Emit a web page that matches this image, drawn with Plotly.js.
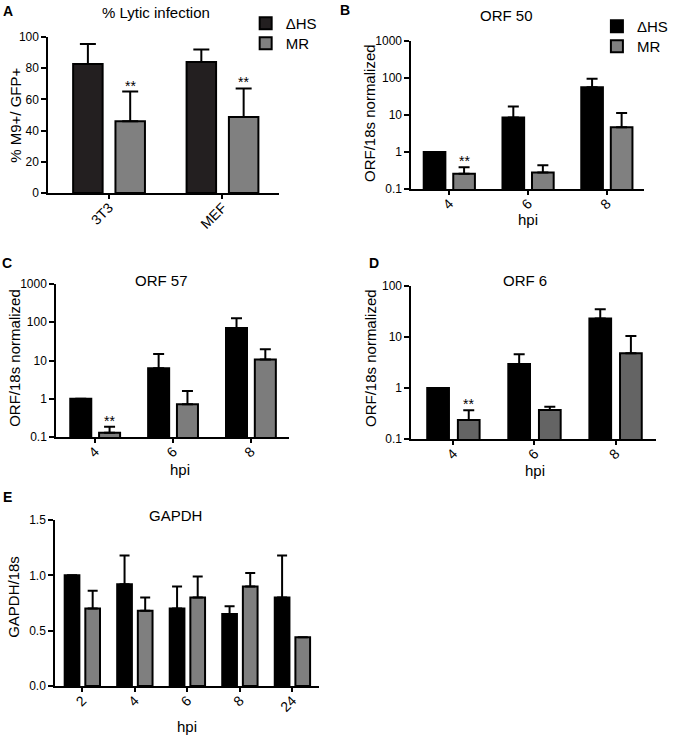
<!DOCTYPE html>
<html><head><meta charset="utf-8">
<script src="https://cdn.plot.ly/plotly-3.0.1.min.js"></script>
<style>html,body{margin:0;padding:0;background:#fff}#chart{width:673px;height:737px}</style>
</head><body><div id="chart"></div>
<script>
// ---------------- DATA ----------------
const seriesNames = ['\u0394HS', 'MR'];

// A: % Lytic infection
const cellCats = ['3T3', 'MEF'];
const lyticDHS = [82.7, 84.0];
const lyticDHSTop = [95.5, 92.0];
const lyticMR = [46.0, 48.7];
const lyticMRTop = [65.0, 67.0];

// B-D: ORF/18s normalized
const hpiORF = ['4', '6', '8'];
const orf50DHS = [1.0, 8.5, 56];
const orf50DHSTop = [1.0, 17, 96];
const orf50MR = [0.26, 0.28, 4.7];
const orf50MRTop = [0.39, 0.44, 11.3];

const orf57DHS = [1.0, 6.3, 71];
const orf57DHSTop = [1.0, 14.8, 127];
const orf57MR = [0.13, 0.72, 10.7];
const orf57MRTop = [0.185, 1.59, 19.6];

const orf6DHS = [1.0, 2.95, 23];
const orf6DHSTop = [1.0, 4.6, 35];
const orf6MR = [0.236, 0.37, 4.8];
const orf6MRTop = [0.366, 0.43, 10.5];

// E: GAPDH/18s
const hpiGAPDH = ['2', '4', '6', '8', '24'];
const gapdhDHS = [1.00, 0.92, 0.70, 0.65, 0.80];
const gapdhDHSTop = [1.00, 1.18, 0.90, 0.72, 1.18];
const gapdhMR = [0.70, 0.68, 0.80, 0.90, 0.44];
const gapdhMRTop = [0.86, 0.80, 0.99, 1.02, 0.44];

const logTickVals = [0.1, 1, 10, 100, 1000];
const logTickText = ['0.1', '1', '10', '100', '1000'];

// ---------------- LAYOUT ----------------
const W = 673, H = 737;
const FONT = '"Liberation Sans", Arial, Helvetica, sans-serif';
const px = x => x / W;
const py = y => 1 - y / H;

const panels = [
  {letter:'A', title:'% Lytic infection', ytitle:'% M9+/ GFP+', xtitle:null,
   cats:cellCats, dhs:lyticDHS, dhsTop:lyticDHSTop, mr:lyticMR, mrTop:lyticMRTop,
   log:false, yrange:[0,100], dtick:20, box:[49,283,37,193], xr:[-0.535,1.5], w:0.26, g:0.113,
   dhsColor:'#231f20', mrColor:'#808080', cap:8, legends:['legend','legend3'], legendPos:[[249,7],[249,27]], sig:[0,1],
   letterPos:[8,11], titlePos:[158,12], ytitlePos:[15,115], xtitlePos:null},
  {letter:'B', title:'ORF 50', ytitle:'ORF/18s normalized', xtitle:'hpi',
   cats:hpiORF, dhs:orf50DHS, dhsTop:orf50DHSTop, mr:orf50MR, mrTop:orf50MRTop,
   log:true, yrange:[-1,3], box:[417,653,41,189], xr:[-0.481,2.475], w:0.275, g:0.1,
   dhsColor:'#000000', mrColor:'#808080', cap:5.5, legends:['legend2','legend4'], legendPos:[[605,10],[605,30]], sig:[0],
   letterPos:[350,10], titlePos:[513,15], ytitlePos:[375,113], xtitlePos:[535,220]},
  {letter:'C', title:'ORF 57', ytitle:'ORF/18s normalized', xtitle:'hpi',
   cats:hpiORF, dhs:orf57DHS, dhsTop:orf57DHSTop, mr:orf57MR, mrTop:orf57MRTop,
   log:true, yrange:[-1,3], box:[57,293,284,437], xr:[-0.5,2.49], w:0.27, g:0.1,
   dhsColor:'#000000', mrColor:'#7c7c7c', cap:5.5, legends:null, sig:[0],
   letterPos:[7,263], titlePos:[164,280], ytitlePos:[14,358], xtitlePos:[182,469]},
  {letter:'D', title:'ORF 6', ytitle:'ORF/18s normalized', xtitle:'hpi',
   cats:hpiORF, dhs:orf6DHS, dhsTop:orf6DHSTop, mr:orf6MR, mrTop:orf6MRTop,
   log:true, yrange:[-1,2], box:[417,665,286,439], xr:[-0.518,2.5], w:0.268, g:0.11,
   dhsColor:'#000000', mrColor:'#646464', cap:5.5, legends:null, sig:[0],
   letterPos:[379,263], titlePos:[532,280], ytitlePos:[375,358], xtitlePos:[542,470]},
  {letter:'E', title:'GAPDH', ytitle:'GAPDH/18s', xtitle:'hpi',
   cats:hpiGAPDH, dhs:gapdhDHS, dhsTop:gapdhDHSTop, mr:gapdhMR, mrTop:gapdhMRTop,
   log:false, yrange:[0,1.5], dtick:0.5, box:[56,323,520,686], xr:[-0.516,4.5], w:0.28, g:0.113,
   dhsColor:'#000000', mrColor:'#7f7f7f', cap:5, legends:null, sig:[],
   letterPos:[8,497], titlePos:[178,515], ytitlePos:[13,597], xtitlePos:[190,726]}
];

const traces = [];
const layout = {
  width: W, height: H,
  margin: {l:0, r:0, t:0, b:0},
  paper_bgcolor: '#ffffff', plot_bgcolor: '#ffffff',
  font: {family: FONT, size: 12, color: '#000'},
  barmode: 'overlay',
  showlegend: true,
  annotations: [],
  shapes: []
};

panels.forEach((p, i) => {
  const sfx = i === 0 ? '' : String(i + 1);
  const xa = 'x' + sfx, ya = 'y' + sfx;
  const mkErr = (vals, tops) => vals.map((v, k) => Math.max(0, tops[k] - v));
  const zeros = p.cats.map(() => 0);
  const common = {
    type: 'bar', x: p.cats, xaxis: xa, yaxis: ya, width: p.w,
    hoverinfo: 'y'
  };
  const groupData = [
    {name: seriesNames[0], y: p.dhs, top: p.dhsTop, color: p.dhsColor, offset: -p.g/2 - p.w},
    {name: seriesNames[1], y: p.mr, top: p.mrTop, color: p.mrColor, offset: p.g/2}
  ];
  groupData.forEach((s, j) => {
    const t = Object.assign({}, common, {
      name: s.name, y: s.y, offset: s.offset,
      marker: {color: s.color, line: {color: '#000', width: 2}},
      error_y: {type: 'data', symmetric: false, array: mkErr(s.y, s.top), arrayminus: zeros,
                color: '#000', thickness: 2, width: p.cap},
      showlegend: !!p.legends
    });
    if (p.legends) {
      t.legend = p.legends[j];
      const lp = p.legendPos[j];
      layout[p.legends[j]] = {x: px(lp[0]), y: py(lp[1]), xanchor:'left', yanchor:'top',
        font:{size:15, family:FONT, color:'#000'}, bgcolor:'rgba(0,0,0,0)'};
    }
    traces.push(t);
  });

  const [x0, x1, y0, y1] = p.box;
  layout['xaxis' + sfx] = {
    type: 'category', domain: [px(x0), px(x1)], anchor: ya, range: p.xr,
    showline: true, linecolor: '#000', linewidth: 2, mirror: false,
    ticks: 'outside', ticklen: 4, tickwidth: 2, tickcolor: '#000',
    tickangle: -45, tickfont: {size: 14, family: FONT, color: '#000'},
    ticklabelstandoff: -5,
    showgrid: false, zeroline: false, fixedrange: true
  };
  const yax = {
    domain: [py(y1), py(y0)], anchor: xa, range: p.yrange,
    showline: true, linecolor: '#000', linewidth: 2,
    ticks: 'outside', ticklen: 5, tickwidth: 2, tickcolor: '#000',
    tickfont: {size: 12, family: FONT, color: '#000'},
    showgrid: false, zeroline: false, fixedrange: true
  };
  if (p.log) {
    yax.type = 'log';
    yax.tickvals = logTickVals.filter(v => Math.log10(v) <= p.yrange[1] + 1e-9);
    yax.ticktext = logTickText.slice(0, yax.tickvals.length);
  } else {
    yax.tickmode = 'linear'; yax.tick0 = 0; yax.dtick = p.dtick;
    if (p.dtick < 1) yax.tickformat = '.1f';
  }
  layout['yaxis' + sfx] = yax;

  // panel letter
  layout.annotations.push({xref:'paper', yref:'paper', x:px(p.letterPos[0]), y:py(p.letterPos[1]),
    xanchor:'center', yanchor:'middle', showarrow:false, text:'<b>' + p.letter + '</b>',
    font:{size:14, family:FONT, color:'#000'}});
  // title
  layout.annotations.push({xref:'paper', yref:'paper', x:px(p.titlePos[0]), y:py(p.titlePos[1]),
    xanchor:'center', yanchor:'middle', showarrow:false, text:p.title,
    font:{size:15, family:FONT, color:'#000'}});
  // y title
  layout.annotations.push({xref:'paper', yref:'paper', x:px(p.ytitlePos[0]), y:py(p.ytitlePos[1]),
    xanchor:'center', yanchor:'middle', showarrow:false, text:p.ytitle, textangle:-90,
    font:{size:15, family:FONT, color:'#000'}});
  // x title
  if (p.xtitle) {
    layout.annotations.push({xref:'paper', yref:'paper', x:px(p.xtitlePos[0]), y:py(p.xtitlePos[1]),
      xanchor:'center', yanchor:'middle', showarrow:false, text:p.xtitle,
      font:{size:15, family:FONT, color:'#000'}});
  }
  // significance stars above MR error bars
  p.sig.forEach(k => {
    const top = p.mrTop[k];
    layout.annotations.push({xref:xa, yref:ya, x:k + p.g/2 + p.w/2,
      y: p.log ? Math.log10(top) : top,
      xanchor:'center', yanchor:'bottom', yshift:-4, showarrow:false, text:'**',
      font:{size:14, family:FONT, color:'#000'}});
  });
});

Plotly.newPlot('chart', traces, layout, {staticPlot: true, displayModeBar: false});
</script>
</body></html>
